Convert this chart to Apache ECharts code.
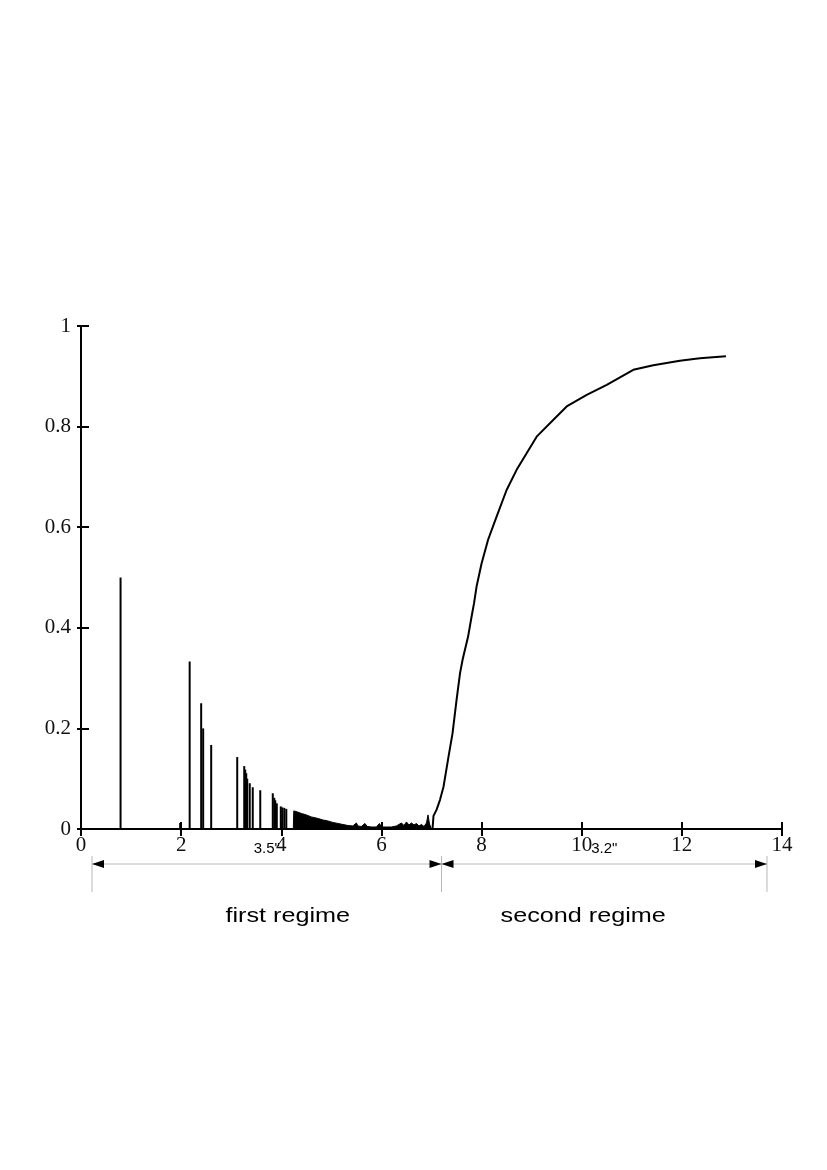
<!DOCTYPE html>
<html>
<head>
<meta charset="utf-8">
<script src="https://cdn.jsdelivr.net/npm/echarts@6/dist/echarts.min.js"></script>
<style>
  html, body { margin: 0; padding: 0; background: #fff; }
  #chart { width: 827px; height: 1170px; }
</style>
</head>
<body>
<div id="chart"></div>
<script>
// isolated spikes in the first regime
const spikeX = [0.79, 1.98, 2.17, 2.40, 2.44, 2.60, 3.12, 3.26, 3.28, 3.30, 3.32, 3.37, 3.43, 3.58,
  3.83, 3.86, 3.88, 3.91, 3.99, 4.02, 4.06, 4.10];
const spikeY = [0.50, 0.012, 0.333, 0.25, 0.20, 0.167, 0.143, 0.125, 0.118, 0.111, 0.10, 0.091, 0.083, 0.077,
  0.071, 0.062, 0.057, 0.051, 0.045, 0.043, 0.042, 0.040];

// dense comb of spikes, drawn as its envelope
const denseX = [4.24, 4.25, 4.32, 4.40, 4.50, 4.60, 4.73, 4.83, 4.93, 5.03, 5.13, 5.23, 5.33, 5.43,
  5.50, 5.53, 5.60, 5.67, 5.72, 5.80, 5.90, 5.96, 6.00, 6.10, 6.20, 6.30, 6.40, 6.45, 6.50,
  6.55, 6.60, 6.65, 6.70, 6.75, 6.80, 6.85, 6.90, 6.93, 6.96, 7.00];
const denseY = [0, 0.036, 0.034, 0.031, 0.028, 0.024, 0.021, 0.018, 0.016, 0.013, 0.011, 0.009, 0.007, 0.006,
  0.012, 0.006, 0.005, 0.011, 0.005, 0.004, 0.004, 0.011, 0.004, 0.004, 0.004, 0.006, 0.012, 0.007, 0.014,
  0.008, 0.012, 0.008, 0.011, 0.006, 0.009, 0.005, 0.012, 0.028, 0.010, 0];

// second regime curve
const curveX = [7.02, 7.04, 7.10, 7.17, 7.24, 7.34, 7.42, 7.50, 7.57, 7.62, 7.65, 7.73, 7.80, 7.85, 7.90,
  8.00, 8.13, 8.30, 8.50, 8.70, 8.90, 9.10, 9.43, 9.70, 10.10, 10.50, 11.03, 11.43, 11.96, 12.36, 12.88];
const curveY = [0, 0.026, 0.038, 0.058, 0.084, 0.144, 0.19, 0.256, 0.31, 0.336, 0.349, 0.382, 0.422, 0.449, 0.482,
  0.528, 0.575, 0.621, 0.674, 0.714, 0.747, 0.780, 0.813, 0.840, 0.863, 0.883, 0.913, 0.922, 0.931, 0.936, 0.940];

// annotations below the axis
const regimeBounds = [0.22, 7.2, 13.7];
const durationLabels = ['3.5"', '3.2"'];
const regimeLabels = ['first regime', 'second regime'];
const regimeLabelX = [4.13, 10.03];

const serif = '"Liberation Serif", "DejaVu Serif", serif';
const sans = '"Liberation Sans", Arial, sans-serif';

const chart = echarts.init(document.getElementById('chart'));

const tickStyle = { color: '#000', width: 2 };

chart.setOption({
  animation: false,
  backgroundColor: '#fff',
  grid: { left: 81, right: 45, top: 326, height: 503, containLabel: false },
  xAxis: [
    {
      type: 'value', min: 0, max: 14, interval: 2,
      axisLine: { lineStyle: { color: '#000', width: 2 } },
      axisTick: { inside: true, length: 7, lineStyle: tickStyle },
      axisLabel: { color: '#111', fontFamily: serif, fontSize: 21, margin: 6 },
      splitLine: { show: false }
    },
    {
      type: 'value', min: 0, max: 14, interval: 2, position: 'bottom',
      axisLine: { show: false },
      axisTick: { inside: false, length: 7, lineStyle: tickStyle },
      axisLabel: { show: false },
      splitLine: { show: false }
    }
  ],
  yAxis: [
    {
      type: 'value', min: 0, max: 1, interval: 0.2,
      axisLine: { show: true, lineStyle: { color: '#000', width: 2 } },
      axisTick: { show: true, inside: true, length: 8, lineStyle: tickStyle },
      axisLabel: { color: '#111', fontFamily: serif, fontSize: 21, margin: 10 },
      splitLine: { show: false }
    },
    {
      type: 'value', min: 0, max: 1, interval: 0.2, position: 'left',
      axisLine: { show: false },
      axisTick: { show: true, inside: false, length: 4, lineStyle: tickStyle },
      axisLabel: { show: false },
      splitLine: { show: false }
    }
  ],
  series: [
    {
      type: 'bar',
      barWidth: 2,
      itemStyle: { color: '#000' },
      data: spikeX.map((x, i) => [x, spikeY[i]])
    },
    {
      type: 'line',
      symbol: 'none',
      lineStyle: { color: '#000', width: 1 },
      areaStyle: { color: '#000', opacity: 1 },
      data: denseX.map((x, i) => [x, denseY[i]])
    },
    {
      type: 'line',
      symbol: 'none',
      lineStyle: { color: '#000', width: 2 },
      data: curveX.map((x, i) => [x, curveY[i]])
    }
  ]
});

// annotation graphics placed through the axis scale
const px = v => chart.convertToPixel({ gridIndex: 0 }, [v, 0])[0];
const base = chart.convertToPixel({ gridIndex: 0 }, [0, 0])[1];
const arrowY = base + 35;
const gray = '#b8b8b8';
const graphics = [];

regimeBounds.forEach(b => {
  graphics.push({
    type: 'line',
    shape: { x1: px(b), y1: base + 27, x2: px(b), y2: base + 63 },
    style: { stroke: gray, lineWidth: 1 }
  });
});

for (let i = 0; i < 2; i++) {
  const a = px(regimeBounds[i]);
  const b = px(regimeBounds[i + 1]);
  graphics.push({
    type: 'line',
    shape: { x1: a, y1: arrowY, x2: b, y2: arrowY },
    style: { stroke: gray, lineWidth: 1 }
  });
  graphics.push({
    type: 'polygon',
    shape: { points: [[a, arrowY], [a + 12, arrowY - 4], [a + 12, arrowY + 4]] },
    style: { fill: '#000' }
  });
  graphics.push({
    type: 'polygon',
    shape: { points: [[b, arrowY], [b - 12, arrowY - 4], [b - 12, arrowY + 4]] },
    style: { fill: '#000' }
  });
  graphics.push({
    type: 'text',
    x: (a + b) / 2, y: base + 20,
    style: {
      text: durationLabels[i], fill: '#000', font: '15px ' + sans,
      align: 'center', verticalAlign: 'middle'
    }
  });
  graphics.push({
    type: 'text',
    x: px(regimeLabelX[i]), y: base + 87,
    scaleX: 1.2,
    style: {
      text: regimeLabels[i], fill: '#000', font: '21px ' + sans,
      align: 'center', verticalAlign: 'middle'
    }
  });
}

chart.setOption({ graphic: graphics });
</script>
</body>
</html>
